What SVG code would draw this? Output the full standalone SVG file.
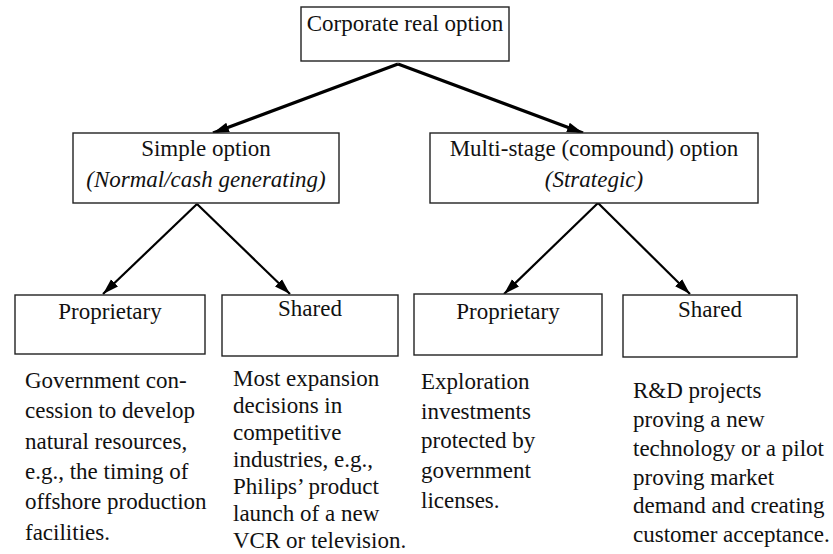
<svg xmlns="http://www.w3.org/2000/svg" width="833" height="554" viewBox="0 0 833 554">
<style>
.box{fill:#fff;stroke:#222;stroke-width:1.4}
.t{font-family:"Liberation Serif","Times New Roman",serif;font-size:23px;fill:#111}
.c{text-anchor:middle}
.i{font-style:italic}
.e1{stroke:#000;stroke-width:3.2;fill:none}
.e2{stroke:#000;stroke-width:2.2;fill:none}
</style>
<defs>
<marker id="ah" markerUnits="userSpaceOnUse" markerWidth="18" markerHeight="12" refX="16" refY="6" orient="auto">
<path d="M0,1 L16,6 L0,11 z" fill="#000"/>
</marker>
</defs>
<g id="connectors">
<line class="e1" x1="398" y1="64" x2="213" y2="133" marker-end="url(#ah)"/>
<line class="e1" x1="398" y1="64" x2="583" y2="133" marker-end="url(#ah)"/>
<line class="e2" x1="197" y1="204" x2="103" y2="294" marker-end="url(#ah)"/>
<line class="e2" x1="197" y1="204" x2="290" y2="294" marker-end="url(#ah)"/>
<line class="e2" x1="598" y1="203" x2="504" y2="294" marker-end="url(#ah)"/>
<line class="e2" x1="598" y1="203" x2="690" y2="294" marker-end="url(#ah)"/>
</g>
<g id="root">
<rect class="box" x="301" y="7" width="208" height="54"/>
<text class="t c" x="405" y="31">Corporate real option</text>
</g>
<g id="simple">
<rect class="box" x="73" y="133" width="266" height="70"/>
<text class="t c" x="206" y="156">Simple option</text>
<text class="t c i" x="206" y="187">(Normal/cash generating)</text>
</g>
<g id="multi">
<rect class="box" x="430" y="133" width="328" height="70"/>
<text class="t c" x="594" y="156">Multi-stage (compound) option</text>
<text class="t c i" x="594" y="187">(Strategic)</text>
</g>
<g id="prop1">
<rect class="box" x="15" y="295" width="190" height="59"/>
<text class="t c" x="110" y="319">Proprietary</text>
</g>
<g id="shared1">
<rect class="box" x="222" y="295" width="176" height="61"/>
<text class="t c" x="310" y="316">Shared</text>
</g>
<g id="prop2">
<rect class="box" x="414" y="294" width="188" height="61"/>
<text class="t c" x="508" y="319">Proprietary</text>
</g>
<g id="shared2">
<rect class="box" x="623" y="295" width="174" height="62"/>
<text class="t c" x="710" y="317">Shared</text>
</g>
<g id="desc1">
<text class="t" x="25" y="388">Government con-</text>
<text class="t" x="25" y="418">cession to develop</text>
<text class="t" x="25" y="449">natural resources,</text>
<text class="t" x="25" y="479">e.g., the timing of</text>
<text class="t" x="25" y="509">offshore production</text>
<text class="t" x="25" y="540">facilities.</text>
</g>
<g id="desc2">
<text class="t" x="233" y="386">Most expansion</text>
<text class="t" x="233" y="413">decisions in</text>
<text class="t" x="233" y="440">competitive</text>
<text class="t" x="233" y="467">industries, e.g.,</text>
<text class="t" x="233" y="494">Philips’ product</text>
<text class="t" x="233" y="521">launch of a new</text>
<text class="t" x="233" y="548">VCR or television.</text>
</g>
<g id="desc3">
<text class="t" x="421" y="389">Exploration</text>
<text class="t" x="421" y="419">investments</text>
<text class="t" x="421" y="448">protected by</text>
<text class="t" x="421" y="478">government</text>
<text class="t" x="421" y="508">licenses.</text>
</g>
<g id="desc4">
<text class="t" x="633" y="398">R&amp;D projects</text>
<text class="t" x="633" y="427">proving a new</text>
<text class="t" x="633" y="456">technology or a pilot</text>
<text class="t" x="633" y="485">proving market</text>
<text class="t" x="633" y="513">demand and creating</text>
<text class="t" x="633" y="542">customer acceptance.</text>
</g>
</svg>
